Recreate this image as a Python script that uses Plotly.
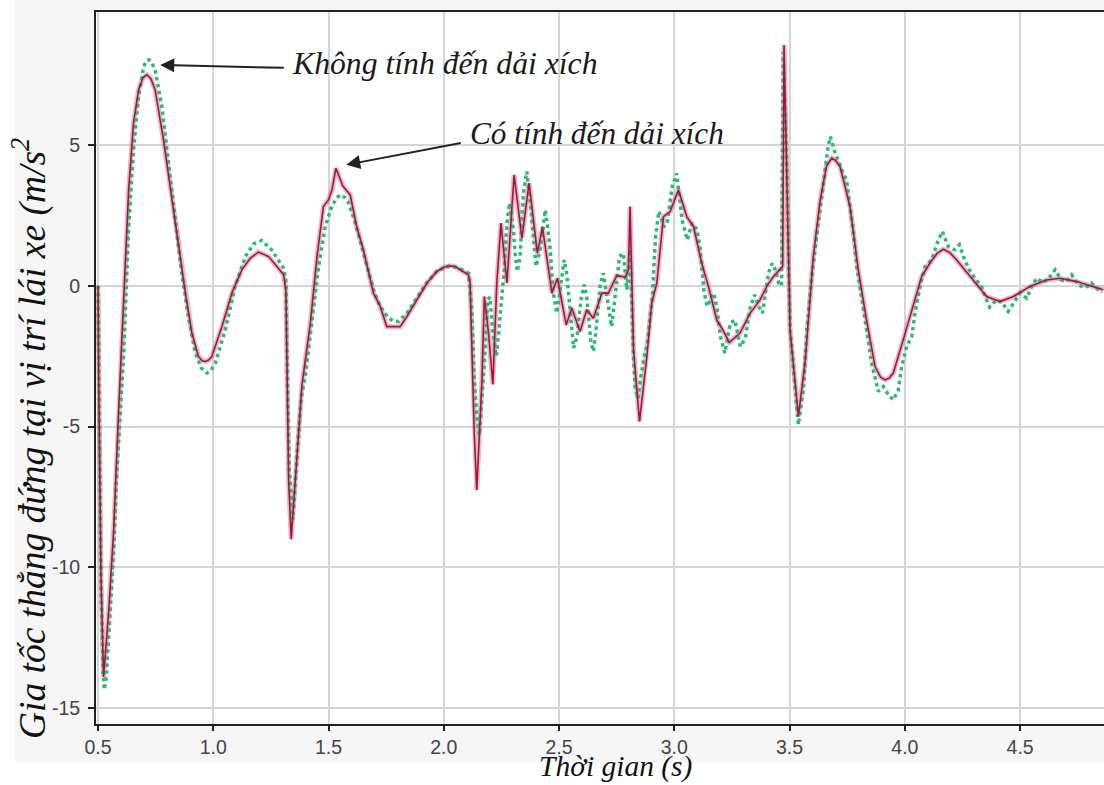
import plotly.graph_objects as go

# ---- data ----
# "Có tính đến dải xích" (with track) - red solid
t_with = [0.500, 0.503, 0.513, 0.524, 0.546, 0.568, 0.589, 0.597, 0.618, 0.633, 0.654, 0.676,
          0.695, 0.712, 0.730, 0.748, 0.784, 0.821, 0.857, 0.879, 0.907, 0.936, 0.952, 0.965,
          0.980, 0.994, 1.038, 1.081,
          1.124, 1.160, 1.196, 1.240, 1.276, 1.305, 1.315, 1.322, 1.327, 1.338, 1.356, 1.377,
          1.385, 1.421, 1.450, 1.478, 1.500, 1.515, 1.532, 1.562, 1.594, 1.622, 1.651, 1.695,
          1.724, 1.753, 1.781, 1.811, 1.840, 1.883, 1.927, 1.970, 2.000, 2.028, 2.050, 2.071,
          2.107, 2.114,
          2.122, 2.132, 2.143, 2.165, 2.176, 2.194, 2.213, 2.230, 2.248, 2.274, 2.305, 2.339,
          2.370, 2.406, 2.428, 2.469, 2.493, 2.531, 2.555, 2.591, 2.620, 2.649, 2.686, 2.714,
          2.750, 2.787, 2.801, 2.808, 2.816, 2.823, 2.849, 2.881, 2.902, 2.924, 2.953, 2.982,
          3.018, 3.054, 3.083, 3.119, 3.148, 3.184, 3.210, 3.239, 3.285, 3.329, 3.372, 3.401,
          3.430, 3.470, 3.476, 3.488, 3.502, 3.538, 3.567, 3.603, 3.632, 3.660, 3.683, 3.700,
          3.719, 3.762,
          3.798, 3.834, 3.871, 3.895, 3.914, 3.932, 3.950, 3.993, 4.037, 4.073, 4.109, 4.140,
          4.167, 4.195, 4.225, 4.297,
          4.355, 4.413, 4.471, 4.543, 4.615, 4.673, 4.745, 4.861]
a_with = [0.0, -3.3, -10.4, -13.9, -11.6, -8.7, -4.5, -3.1, 0.46, 3.41, 5.79, 6.96,
          7.4, 7.5, 7.35, 6.96, 5.19, 3.06, 1.04, -0.25, -1.67, -2.51, -2.66, -2.69,
          -2.64, -2.51, -1.44, -0.25,
          0.57, 0.98, 1.2, 1.04, 0.69, 0.39, -0.14, -4.5, -6.9, -9.0, -6.9, -4.5,
          -3.5, -1.33, 1.04, 2.82, 3.06, 3.4, 4.18, 3.55, 3.23, 2.11, 1.28, -0.26,
          -0.73, -1.45, -1.45, -1.45, -1.09, -0.5, 0.1, 0.51, 0.66, 0.71, 0.68, 0.57,
          0.39, 0.1,
          -2.27, -5.22, -7.25, -3.46, -0.38, -1.67, -3.5, 0.1, 2.23, 0.1, 3.94, 1.69,
          3.65, 1.16, 2.08, -0.26, 0.27, -1.39, -0.79, -1.62, -0.85, -1.15, -0.26, -0.26,
          0.36, 0.31, 0.57, 2.82, 0.1, -2.27, -4.82, -2.51, -0.62, 0.1, 2.46, 2.64,
          3.41, 2.46, 2.11, 0.8, -0.02, -1.21, -1.56, -2.01, -1.68, -0.97, -0.5, -0.02,
          0.33, 0.69, 8.56, 4.36, -1.56, -4.64, -2.75, 1.04, 3.0, 4.25, 4.54, 4.45,
          4.24, 2.82,
          0.57, -1.21, -2.87, -3.25, -3.34, -3.28, -3.1, -1.92, -0.73, 0.33, 0.81, 1.15,
          1.3, 1.18, 0.92, 0.21,
          -0.38, -0.56, -0.38, -0.02, 0.21, 0.27, 0.15, -0.14]

# "Không tính đến dải xích" (without track) - green dotted
t_without = [0.500, 0.503, 0.513, 0.522, 0.527, 0.536, 0.543, 0.558, 0.568, 0.579, 0.589, 0.601,
             0.611, 0.633, 0.654, 0.676, 0.698, 0.710, 0.722, 0.735, 0.748, 0.777, 0.806, 0.835,
             0.863, 0.892,
             0.922, 0.948, 0.973, 0.990, 1.009, 1.052, 1.095, 1.139, 1.175, 1.210, 1.253, 1.305,
             1.315,
             1.322, 1.330, 1.345, 1.356, 1.363, 1.373, 1.382, 1.399, 1.428, 1.457, 1.486, 1.514,
             1.535, 1.551, 1.570, 1.587, 1.616, 1.651, 1.695, 1.724, 1.760, 1.783, 1.803, 1.840,
             1.883, 1.927, 1.970,
             2.028, 2.071, 2.107, 2.122, 2.132, 2.143, 2.155, 2.165, 2.175, 2.190, 2.200, 2.213,
             2.228, 2.240, 2.252, 2.262, 2.274, 2.285, 2.302, 2.309, 2.319, 2.331, 2.345, 2.360,
             2.374, 2.382, 2.392, 2.400, 2.418, 2.440, 2.450, 2.462, 2.473, 2.490, 2.505, 2.522,
             2.534, 2.548, 2.563, 2.578, 2.595, 2.609, 2.620, 2.638, 2.649, 2.660, 2.678, 2.692,
             2.714, 2.728, 2.743, 2.762, 2.779, 2.794, 2.808, 2.816, 2.823, 2.830, 2.842, 2.855,
             2.869, 2.883, 2.893, 2.905, 2.912, 2.919, 2.933, 2.955, 2.969, 2.991, 3.010, 3.034,
             3.056, 3.077, 3.099, 3.113, 3.128, 3.142, 3.171, 3.186, 3.200, 3.219, 3.243, 3.262,
             3.287, 3.308, 3.330, 3.349, 3.366, 3.383, 3.395, 3.409, 3.424, 3.438, 3.453, 3.465,
             3.472, 3.488, 3.502, 3.538, 3.560, 3.575, 3.596, 3.618, 3.639, 3.653, 3.667, 3.677,
             3.696, 3.732, 3.747, 3.762, 3.776, 3.791, 3.812, 3.834, 3.856, 3.871, 3.885, 3.907,
             3.928, 3.950, 3.972, 3.986, 4.008, 4.030, 4.044, 4.066, 4.088, 4.116, 4.145, 4.163,
             4.188, 4.216, 4.237, 4.259, 4.288, 4.310, 4.332, 4.354, 4.368, 4.397, 4.419, 4.448,
             4.470, 4.500, 4.529, 4.550, 4.572, 4.601, 4.630, 4.652, 4.679, 4.702, 4.724, 4.752,
             4.781, 4.810, 4.853]
a_without = [0.0, -3.3, -10.6, -13.6, -14.35, -13.9, -13.0, -11.0, -9.5, -7.0, -5.5, -3.8,
             -2.5, 2.1, 4.83, 6.72, 7.79, 8.0, 8.03, 7.9, 7.67, 6.37, 4.36, 2.23,
             0.45, -1.09,
             -2.39, -2.92, -3.1, -3.0, -2.75, -1.56, -0.02, 1.04, 1.49, 1.61, 1.28, 0.63,
             0.2,
             -3.5, -6.5, -8.3, -7.13, -6.06, -4.88, -3.93, -3.22, -1.33, 0.69, 2.11, 2.82,
             3.12, 3.23, 3.15, 2.94, 2.23, 1.16, -0.14, -0.73, -1.15, -1.25, -1.27, -0.97,
             -0.45, 0.12, 0.52,
             0.73, 0.6, 0.45, -0.85, -3.22, -4.64, -5.3, -4.0, -2.9, -0.5, -0.4, -1.7,
             -2.5, -1.5, -0.5, 0.6, 2.23, 2.94, 1.99, 1.16, 0.51, 1.04, 3.29, 4.06,
             3.06, 2.34, 1.63, 0.69, 1.28, 2.7, 2.11, 1.28, -0.14, -0.97, -0.14, 0.92,
             0.39, -0.97, -2.21, -1.8, -0.5, 0.04, -0.38, -1.98, -2.33, -1.62, -0.02, 0.45,
             -0.79, -1.45, -0.38, 1.04, 1.16, -0.14, 1.28, -1.09, -2.51, -3.6, -4.0, -3.22,
             -2.51, -2.04, -1.33, -0.38, 0.8, 1.75, 2.65, 2.1, 2.23, 3.53, 4.0, 2.34,
             1.63, 2.23, 1.99, 1.28, -0.14, -0.73, -0.26, -0.85, -1.8, -2.39, -1.33, -1.21,
             -2.16, -1.86, -0.73, -0.32, -0.73, -0.97, -0.26, 0.45, 0.8, 0.57, 0.1, 0.0,
             8.3, 4.2, -1.5, -4.94, -3.7, -1.56, 0.33, 1.75, 3.06, 4.12, 4.95, 5.3,
             4.77, 4.0, 3.77, 2.82, 1.99, 0.69, -0.5, -1.56, -2.75, -3.34, -3.75, -3.58,
             -3.87, -4.05, -3.7, -2.87, -2.16, -1.8, -0.97, -0.02, 0.69, 0.92, 1.63, 1.93,
             1.4, 1.28, 1.46, 0.92, 0.45, 0.21, -0.02, -0.5, -0.76, -0.5, -0.56, -0.91,
             -0.61, -0.26, -0.44, -0.02, 0.27, 0.1, 0.33, 0.57, 0.21, 0.15, 0.39, 0.04,
             -0.08, 0.1, -0.26]

x_tickvals = [0.5, 1.0, 1.5, 2.0, 2.5, 3.0, 3.5, 4.0, 4.5]
x_ticktext = ["0.5", "1.0", "1.5", "2.0", "2.5", "3.0", "3.5", "4.0", "4.5"]
y_tickvals = [-15, -10, -5, 0, 5]
y_ticktext = ["-15", "-10", "-5", "0", "5"]

label_without = "Không tính đến dải xích"
label_with = "Có tính đến dải xích"
x_title = "Thời gian (s)"
y_title = "Gia tốc thẳng đứng tại vị trí lái xe (m/s<sup>2</sup>"

# ---- figure ----
fig = go.Figure()
fig.add_trace(go.Scatter(x=t_with, y=a_with, mode="lines",
                         line=dict(color="rgba(200,100,128,0.45)", width=5),
                         hoverinfo="skip", showlegend=False))
fig.add_trace(go.Scatter(x=t_without, y=a_without, mode="lines", name=label_without,
                         line=dict(color="#2db87a", width=3.5, dash="3.5px,3.5px"),
                         showlegend=False))
fig.add_trace(go.Scatter(x=t_with, y=a_with, mode="lines", name=label_with,
                         line=dict(color="#a3163d", width=1.6),
                         showlegend=False))

W, H = 1104, 785
ml, mr, mt, mb = 96, 0, 12, 61
pw, ph = W - ml - mr, H - mt - mb


def px2paper_x(px):
    return (px - ml) / pw


def px2paper_y(py):
    return (H - mb - py) / ph


serif = "Liberation Serif, Times New Roman, serif"
sans = "Liberation Sans, Arial, sans-serif"

fig.update_layout(
    width=W, height=H,
    margin=dict(l=ml, r=mr, t=mt, b=mb),
    paper_bgcolor="white", plot_bgcolor="white",
    showlegend=False,
    xaxis=dict(range=[0.4913, 4.864], tickvals=x_tickvals, ticktext=x_ticktext,
               showgrid=True, gridcolor="#d5d5d5", gridwidth=2, zeroline=False,
               showline=True, linecolor="#222222", linewidth=2, mirror=True,
               ticks="outside", ticklen=5, tickwidth=1.5, tickcolor="#222222",
               tickfont=dict(family=sans, size=19.5, color="#444444")),
    yaxis=dict(range=[-15.57, 9.73], tickvals=y_tickvals, ticktext=y_ticktext,
               showgrid=True, gridcolor="#d5d5d5", gridwidth=2, zeroline=False,
               showline=True, linecolor="#222222", linewidth=2, mirror=False,
               ticks="outside", ticklen=6, tickwidth=1.5, tickcolor="#222222",
               ticklabelstandoff=4,
               tickfont=dict(family=sans, size=19.5, color="#444444")),
    shapes=[
        dict(type="rect", xref="paper", yref="paper", layer="below",
             x0=px2paper_x(15), x1=1.0, y0=px2paper_y(763), y1=px2paper_y(0) + 0.01,
             fillcolor="#f6f6f6", line=dict(width=0)),
        dict(type="rect", xref="paper", yref="paper", layer="below",
             x0=0, x1=1, y0=0, y1=1, fillcolor="white", line=dict(width=0)),
    ],
    annotations=[
        # arrows
        dict(x=0.770, y=7.85, xref="x", yref="y", ax=125, ay=3,
             text="", showarrow=True, arrowhead=2, arrowsize=1.4, arrowwidth=2,
             arrowcolor="#222222"),
        dict(x=1.577, y=4.30, xref="x", yref="y", ax=116, ay=-22,
             text="", showarrow=True, arrowhead=2, arrowsize=1.4, arrowwidth=2,
             arrowcolor="#222222"),
        # labels
        dict(x=px2paper_x(290), y=px2paper_y(64), xref="paper", yref="paper",
             text="<i>" + label_without + "</i>", showarrow=False,
             xanchor="left", yanchor="middle",
             font=dict(family=serif, size=31.7, color="#1a1a1a")),
        dict(x=px2paper_x(468), y=px2paper_y(133), xref="paper", yref="paper",
             text="<i>" + label_with + "</i>", showarrow=False,
             xanchor="left", yanchor="middle",
             font=dict(family=serif, size=31.3, color="#1a1a1a")),
        # axis titles
        dict(x=px2paper_x(615), y=px2paper_y(767), xref="paper", yref="paper",
             text="<i>" + x_title + "</i>", showarrow=False,
             xanchor="center", yanchor="middle",
             font=dict(family=serif, size=29.5, color="#111111")),
        dict(x=px2paper_x(30), y=px2paper_y(439), xref="paper", yref="paper",
             text="<i>" + y_title + "</i>", showarrow=False, textangle=-90,
             xanchor="center", yanchor="middle",
             font=dict(family=serif, size=37.5, color="#111111")),
    ],
)

fig.write_html("out.html")
